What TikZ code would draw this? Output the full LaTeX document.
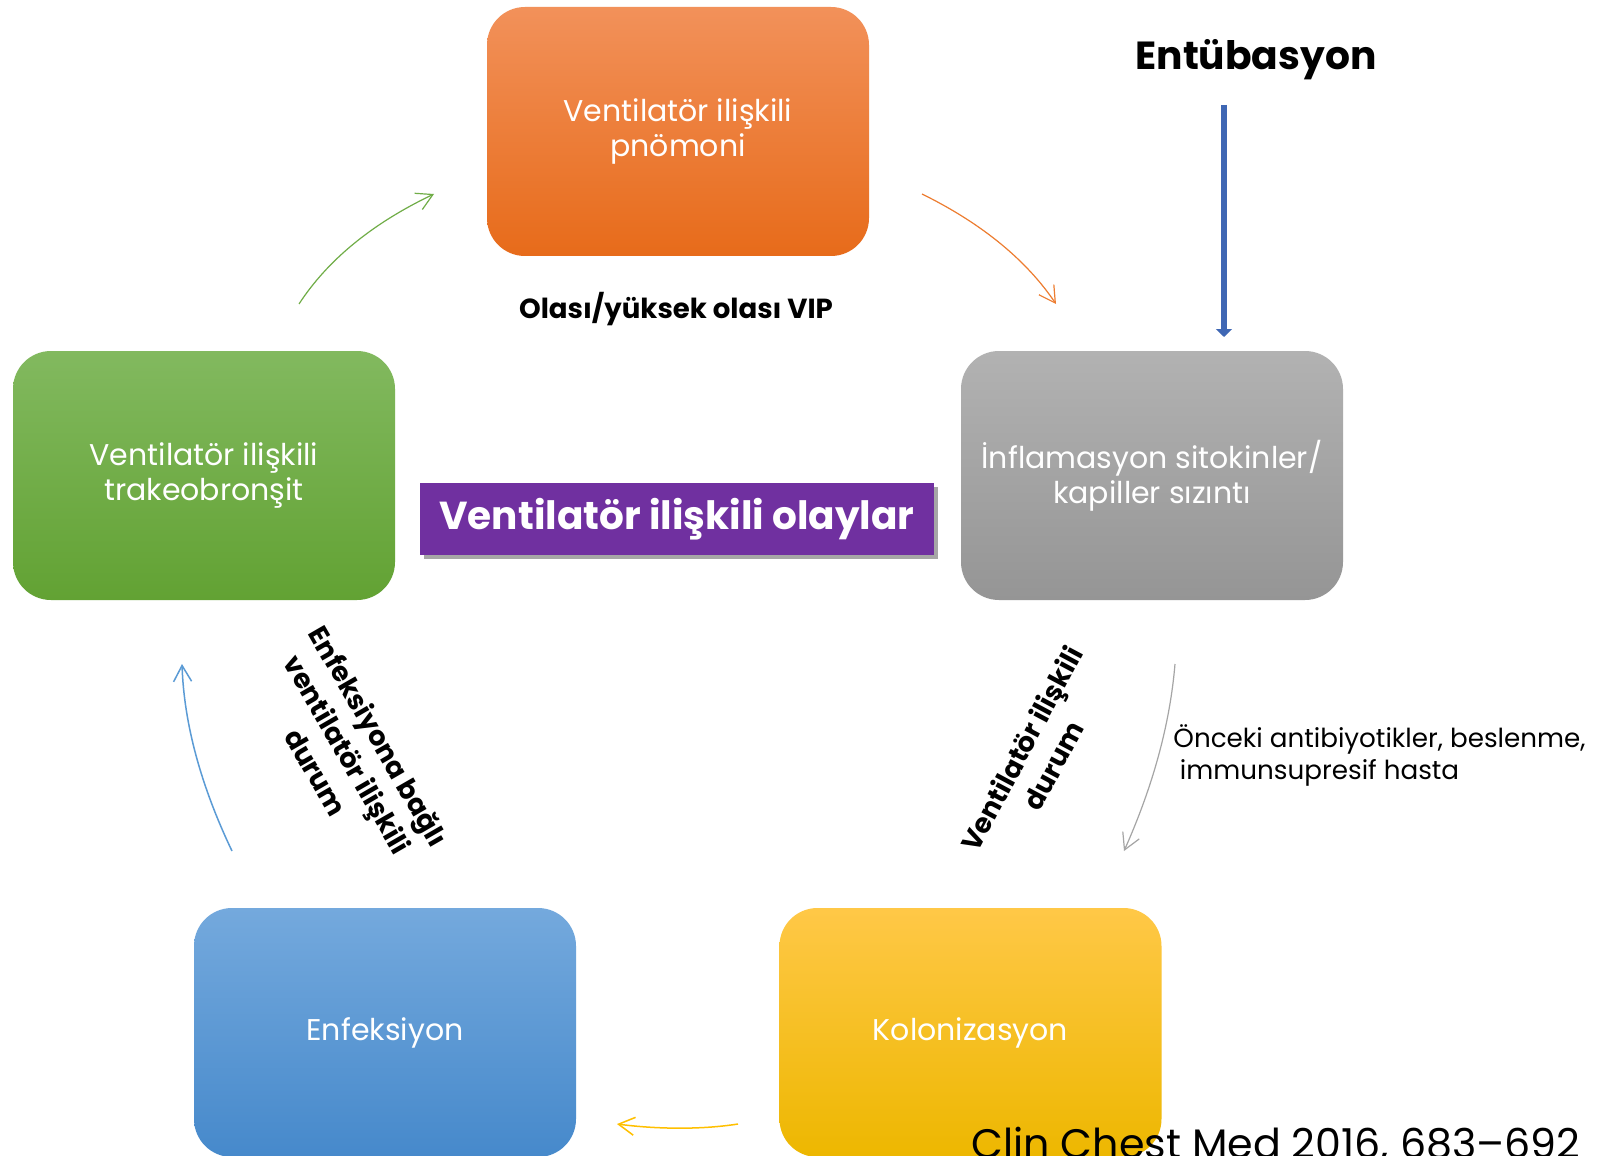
\documentclass[tikz,border=0pt]{standalone}
\usepackage{fontspec}
\setmainfont{Poppins}
\usetikzlibrary{arrows.meta}
\usetikzlibrary{shadows}
\definecolor{vipTop}{HTML}{F2915A}
\definecolor{vipBot}{HTML}{E76B1A}
\definecolor{vatTop}{HTML}{82B95F}
\definecolor{vatBot}{HTML}{62A233}
\definecolor{infTop}{HTML}{B2B2B2}
\definecolor{infBot}{HTML}{959595}
\definecolor{enfTop}{HTML}{74A9DD}
\definecolor{enfBot}{HTML}{4689CB}
\definecolor{kolTop}{HTML}{FFC847}
\definecolor{kolBot}{HTML}{EDB700}
\definecolor{olayPurple}{HTML}{7030A0}
\definecolor{entBlue}{HTML}{3F67B4}
\definecolor{arOrange}{HTML}{ED7D31}
\definecolor{arGreen}{HTML}{70AD47}
\definecolor{arGray}{HTML}{A5A5A5}
\definecolor{arBlue}{HTML}{5B9BD5}
\definecolor{arYellow}{HTML}{FFC000}
\tikzset{box/.style={rounded corners=19pt, minimum width=191pt, minimum height=124.5pt,
    inner sep=0pt, text=white, align=center, font=\fontsize{15pt}{17.5pt}\selectfont}}
\tikzset{arrow/.style={-{Straight Barb[length=8pt,width=9pt]}, line width=0.6pt}}
\tikzset{boldlabel/.style={font=\bfseries\fontsize{13.6pt}{18pt}\selectfont, align=center}}
\tikzset{entarrow/.style={-{Triangle[length=4pt,width=8pt]}, line width=3.4pt, draw=entBlue}}

\begin{document}
\begin{tikzpicture}[x=0.5pt, y=-0.5pt]
        \useasboundingbox (0,0) rectangle (1603,1156);
        \fill[white] (0,0) rectangle (1603,1156);

        % boxes of the cycle
        \node[box, top color=vipTop, bottom color=vipBot] (vip) at (678,131.5)
            {Ventilatör ilişkili\\pnömoni};
        \node[box, top color=infTop, bottom color=infBot] (infl) at (1152,475.5)
            {İnflamasyon sitokinler/\\kapiller sızıntı};
        \node[box, top color=kolTop, bottom color=kolBot] (kol) at (970.5,1032.5)
            {Kolonizasyon};
        \node[box, top color=enfTop, bottom color=enfBot] (enf) at (385,1032.5)
            {Enfeksiyon};
        \node[box, top color=vatTop, bottom color=vatBot] (vat) at (204,475.5)
            {Ventilatör ilişkili\\trakeobronşit};

        \node[fill=olayPurple, text=white, minimum width=257pt, minimum height=36pt,
            font=\bfseries\fontsize{19.5pt}{24pt}\selectfont,
            drop shadow={shadow xshift=2pt, shadow yshift=-2pt, fill=black, opacity=0.35}]
            (olay) at (677,519) {Ventilatör ilişkili olaylar};

        % texts
        \node[font=\bfseries\fontsize{19.6pt}{24pt}\selectfont, anchor=base] (entub) at (1256,70)
            {Entübasyon};
        \node[font=\bfseries\fontsize{13.8pt}{17pt}\selectfont, anchor=base] (olasi) at (676,318)
            {Olası/yüksek olası VIP};
        \node[boldlabel, rotate=-60] (lblleft) at (348,754)
            {Enfeksiyona bağlı\\ventilatör ilişkili\\durum};
        \node[boldlabel, rotate=62] (lblright) at (1037,757)
            {Ventilatör ilişkili\\durum};
        \node[font=\fontsize{13.1pt}{16pt}\selectfont, align=left, anchor=west, inner sep=0pt]
            (onceki) at (1173,755)
            {Önceki antibiyotikler, beslenme,\\\hspace*{0.25em}immunsupresif hasta};
        \node[font=\fontsize{20.6pt}{25pt}\selectfont, anchor=base west, inner sep=0pt] (kaynak)
            at (971,1158) {Clin Chest Med 2016, 683–692};

        % arrow ends
        \coordinate (entA) at (1224,105);
        \coordinate (entB) at (1224,337);
        \coordinate (vipOut) at (922,194);
        \coordinate (inflIn) at (1056,304);
        \coordinate (inflOut) at (1175,664);
        \coordinate (kolIn) at (1124,851);
        \coordinate (kolOut) at (738,1124);
        \coordinate (enfIn) at (617,1124);
        \coordinate (enfOut) at (232,851);
        \coordinate (vatIn) at (182,664);
        \coordinate (vatOut) at (299,304);
        \coordinate (vipIn) at (434,194);

        \draw[entarrow] (entA) -- (entB);
        \draw[arrow, arOrange] (vipOut) .. controls (983,224) and (1027,261) .. (inflIn);
        \draw[arrow, arGray] (inflOut) .. controls (1170,724) and (1153,786) .. (kolIn);
        \draw[arrow, arYellow, line width=0.75pt] (kolOut) .. controls (700,1130) and (655,1129) .. (enfIn);
        \draw[arrow, arBlue, line width=0.75pt] (enfOut) .. controls (201,786) and (184,724) .. (vatIn);
        \draw[arrow, arGreen] (vatOut) .. controls (327,261) and (371,224) .. (vipIn);
\end{tikzpicture}
\end{document}
